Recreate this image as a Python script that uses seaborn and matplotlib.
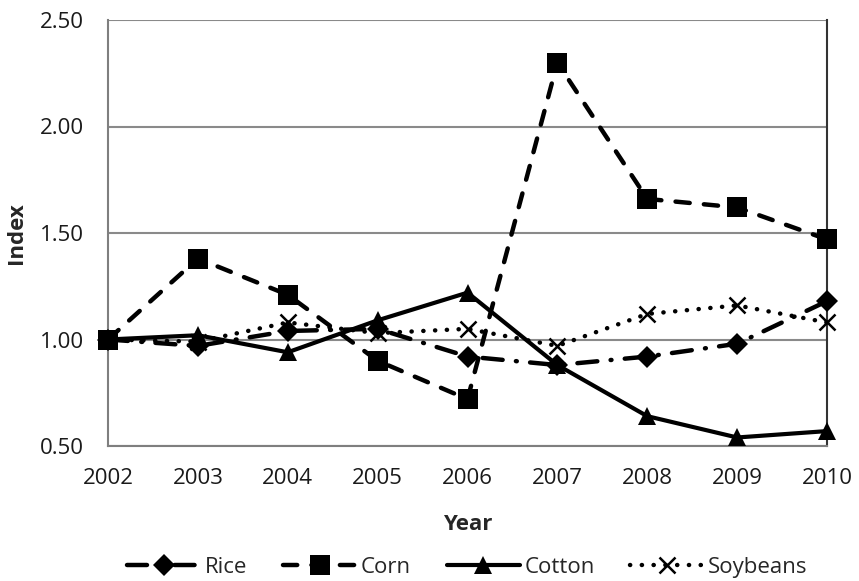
import numpy as np
import pandas as pd
import matplotlib
matplotlib.use('Agg')
import matplotlib.pyplot as plt
import seaborn as sns

# data
years = [2002, 2003, 2004, 2005, 2006, 2007, 2008, 2009, 2010]
rice = [1.00, 0.97, 1.04, 1.05, 0.92, 0.88, 0.92, 0.98, 1.18]
corn = [1.00, 1.38, 1.21, 0.90, 0.72, 2.30, 1.66, 1.62, 1.47]
cotton = [1.00, 1.02, 0.94, 1.09, 1.22, 0.88, 0.64, 0.54, 0.57]
soybeans = [1.00, 0.99, 1.08, 1.03, 1.05, 0.97, 1.12, 1.16, 1.08]
y_ticks = [0.50, 1.00, 1.50, 2.00, 2.50]

sns.set_style('white')
plt.rcParams['font.family'] = ['Open Sans', 'DejaVu Sans']

fig = plt.figure(figsize=(8.59, 5.81), dpi=100)
ax = fig.add_axes([108 / 859, 1 - 446 / 581, (827 - 108) / 859, (446 - 20) / 581])

# series settings: name, values, marker, marker size, linestyle, linewidth
series = [
  ('Rice', rice, 'D', 11, (0, (4.5, 3, 0.2, 3)), 3.2),
  ('Corn', corn, 's', 14, (0, (3.2, 3.2)), 3.2),
  ('Cotton', cotton, '^', 13, '-', 3.0),
  ('Soybeans', soybeans, 'x', 12, (0, (0.05, 2.6)), 3.2),
]

for name, vals, mk, ms, ls, lw in series:
  sns.lineplot(
    x=years,
    y=vals,
    ax=ax,
    color='black',
    marker=mk,
    markersize=ms,
    markeredgewidth=1.8 if mk == 'x' else 0,
    markeredgecolor='black',
    linestyle=ls,
    linewidth=lw,
    dash_capstyle='round',
    clip_on=False,
    zorder=5,
    label=name,
  )

ax.set_xlim(2002, 2010)
ax.set_ylim(0.5, 2.5)
ax.set_yticks(y_ticks)
ax.set_yticklabels(['{:.2f}'.format(v) for v in y_ticks])
ax.set_xticks(years)
ax.yaxis.grid(True, color='#8a8a8a', linewidth=1.5)
ax.set_axisbelow(True)
for side in ['left', 'top', 'bottom']:
  ax.spines[side].set_color('#7f7f7f')
  ax.spines[side].set_linewidth(1.5)
ax.spines['top'].set_visible(False)
ax.spines['right'].set_color('#333333')
ax.spines['right'].set_linewidth(1.5)
ax.tick_params(axis='x', direction='out', length=5.5, width=1.5, color='#7f7f7f',
               labelsize=16, pad=10, labelcolor='#1a1a1a')
ax.tick_params(axis='y', direction='out', length=5.5, width=1.5, color='#7f7f7f',
               labelsize=16, pad=12, labelcolor='#1a1a1a')

ax.set_xlabel('Year', fontsize=16, fontweight='bold', labelpad=18)
ax.set_ylabel('Index', fontsize=16, fontweight='bold', labelpad=9)

ax.legend(
  loc='center',
  bbox_to_anchor=(0.5, -0.285),
  ncol=4,
  frameon=False,
  fontsize=16,
  handlelength=3.3,
  handletextpad=0.2,
  columnspacing=1.6,
)

fig.savefig('out.png', dpi=100)
